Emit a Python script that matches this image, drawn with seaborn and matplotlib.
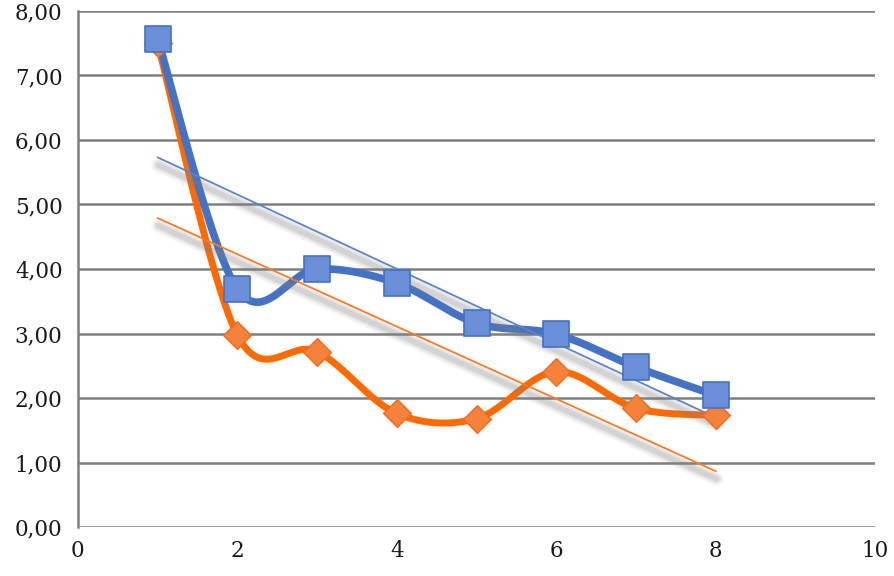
import numpy as np
import pandas as pd
import matplotlib
matplotlib.use("Agg")
import matplotlib.pyplot as plt
import matplotlib.patheffects as pe
from matplotlib.ticker import FuncFormatter
import seaborn as sns

# valores
x_vals = [1, 2, 3, 4, 5, 6, 7, 8]
serie_azul = [7.57, 3.69, 4.00, 3.78, 3.16, 2.99, 2.48, 2.04]
serie_naranja = [7.50, 2.98, 2.72, 1.76, 1.68, 2.41, 1.84, 1.73]
x_ticks = [0, 2, 4, 6, 8, 10]
y_ticks = [0, 1, 2, 3, 4, 5, 6, 7, 8]

AZUL = "#4472C4"
AZUL_MARCA = "#6A8FD8"
NARANJA = "#FF6A00"
NARANJA_MARCA = "#F5823A"


def suavizar(xs, ys, n=40, k=6.0):
    # curva suavizada tipo Excel (Catmull-Rom como Bezier)
    p = np.column_stack([xs, ys]).astype(float)
    p = np.vstack([p[0], p, p[-1]])
    out = []
    t = np.linspace(0, 1, n)[:, None]
    for i in range(1, len(p) - 2):
        p0, p1, p2, p3 = p[i - 1], p[i], p[i + 1], p[i + 2]
        b1 = p1 + (p2 - p0) / k
        b2 = p2 - (p3 - p1) / k
        seg = ((1 - t) ** 3) * p1 + 3 * ((1 - t) ** 2) * t * b1 + 3 * (1 - t) * t ** 2 * b2 + t ** 3 * p2
        out.append(seg if i == 1 else seg[1:])
    out = np.vstack(out)
    return out[:, 0], out[:, 1]


df = pd.DataFrame({"x": x_vals, "azul": serie_azul, "naranja": serie_naranja})

sns.set_theme(style="white")
plt.rcParams["font.family"] = ["DejaVu Serif"]

fig, ax = plt.subplots(figsize=(8.94, 5.76), dpi=100)
fig.subplots_adjust(left=0.087, right=0.979, top=0.981, bottom=0.085)

sombra = [
    pe.SimpleLineShadow(offset=(0.5, -5.5), shadow_color="#808080", alpha=0.08, linewidth=10),
    pe.SimpleLineShadow(offset=(0.5, -5.5), shadow_color="#808080", alpha=0.12, linewidth=7),
    pe.SimpleLineShadow(offset=(0.5, -5.5), shadow_color="#808080", alpha=0.18, linewidth=4),
    pe.Normal(),
]

# líneas suavizadas
xs, ys = suavizar(df["x"], df["naranja"])
ax.plot(xs, ys, color=NARANJA, lw=5, solid_capstyle="round", zorder=3)
xs, ys = suavizar(df["x"], df["azul"])
ax.plot(xs, ys, color=AZUL, lw=5.5, solid_capstyle="round", zorder=4)

# líneas de tendencia
sns.regplot(data=df, x="x", y="azul", scatter=False, ci=None, ax=ax, truncate=True,
            line_kws={"color": "#5B84D0", "lw": 1.3, "zorder": 5, "path_effects": sombra})
sns.regplot(data=df, x="x", y="naranja", scatter=False, ci=None, ax=ax, truncate=True,
            line_kws={"color": "#FF7A20", "lw": 1.3, "zorder": 5, "path_effects": sombra})

# marcadores
sns.scatterplot(data=df, x="x", y="naranja", marker="D", s=200, color=NARANJA_MARCA,
                edgecolor="#F26B1D", linewidth=1, ax=ax, zorder=6)
sns.scatterplot(data=df, x="x", y="azul", marker="s", s=340, color=AZUL_MARCA,
                edgecolor=AZUL, linewidth=1.2, ax=ax, zorder=7)

ax.set_xlim(0, 10)
ax.set_ylim(0, 8)
ax.set_xticks(x_ticks)
ax.set_yticks(y_ticks)
ax.yaxis.set_major_formatter(FuncFormatter(lambda v, _: f"{v:.2f}".replace(".", ",")))
ax.set_xlabel("")
ax.set_ylabel("")
ax.grid(axis="y", color="#7F7F7F", lw=1.8)
ax.grid(axis="x", visible=False)
ax.set_axisbelow(True)
for s in ["top", "right", "bottom"]:
    ax.spines[s].set_visible(False)
ax.spines["left"].set_color("#7F7F7F")
ax.spines["left"].set_linewidth(1.8)
ax.tick_params(axis="both", length=0, labelsize=15.5, colors="#1a1a1a")
ax.tick_params(axis="y", pad=11)
ax.tick_params(axis="x", pad=9)

fig.savefig("out.png", dpi=100, facecolor="white")
